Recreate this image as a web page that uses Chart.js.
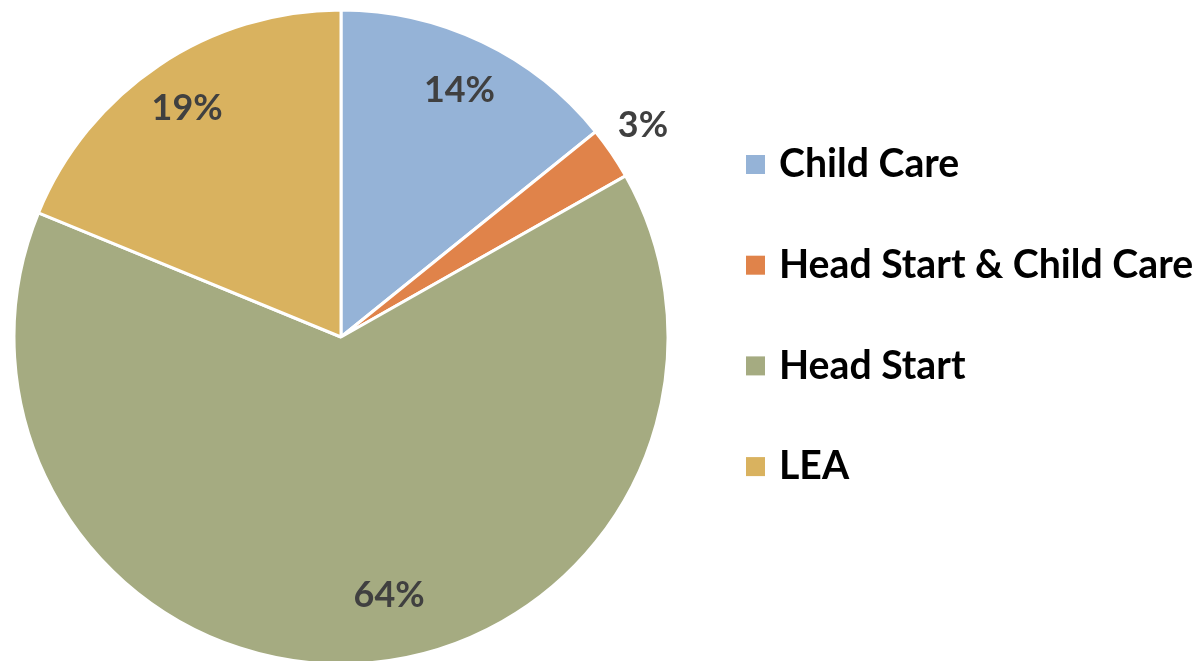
<!DOCTYPE html>
<html>
<head>
<meta charset="utf-8">
<script src="https://cdn.jsdelivr.net/npm/chart.js@4.4.1/dist/chart.umd.min.js"></script>
<style>
html,body{margin:0;padding:0;background:#fff;}
#wrap{width:1200px;height:661px;position:relative;}
</style>
</head>
<body>
<div id="wrap"><canvas id="c" width="1200" height="661"></canvas></div>
<script>
const categories = ["Child Care", "Head Start & Child Care", "Head Start", "LEA"];
const shares = [14.2, 2.6, 64.4, 18.8];
const percentLabels = ["14%", "3%", "64%", "19%"];
const colors = ["#95B3D7", "#E0834A", "#A5AB81", "#D9B25F"];

const FONT = "Lato";

const labelPlugin = {
  id: "sliceLabels",
  afterDatasetsDraw(chart, args, opts) {
    const ctx = chart.ctx;
    const meta = chart.getDatasetMeta(0);
    ctx.save();
    ctx.fillStyle = "#404040";
    ctx.textAlign = "center";
    ctx.textBaseline = "middle";
    let size = 40;
    ctx.font = "bold " + size + "px " + FONT;
    const w = ctx.measureText("14%").width;
    size = size * 71 / w;
    ctx.font = "bold " + size.toFixed(1) + "px " + FONT;
    meta.data.forEach((arc, i) => {
      const p = arc.getProps(["x","y","startAngle","endAngle","outerRadius"], true);
      const mid = (p.startAngle + p.endAngle) / 2 + (opts.angleShift[i] || 0) * Math.PI / 180;
      const r = p.outerRadius * opts.radial[i];
      ctx.fillText(percentLabels[i], p.x + Math.cos(mid) * r, p.y + Math.sin(mid) * r + 1);
    });
    ctx.restore();
  }
};

const legendPlugin = {
  id: "sideLegend",
  afterDraw(chart) {
    const ctx = chart.ctx;
    ctx.save();
    let size = 36;
    ctx.font = "bold " + size + "px " + FONT;
    const w = ctx.measureText("Head Start & Child Care").width;
    size = size * 414 / w;
    ctx.font = "bold " + size.toFixed(1) + "px " + FONT;
    ctx.textBaseline = "middle";
    ctx.textAlign = "left";
    const x0 = 746, box = 19, tx = 779, y0 = 164.5, gap = 100.7;
    categories.forEach((name, i) => {
      const cy = y0 + i * gap;
      ctx.fillStyle = colors[i];
      ctx.fillRect(x0, cy - box / 2, box, box);
      ctx.fillStyle = "#000000";
      ctx.fillText(name, tx, cy);
    });
    ctx.restore();
  }
};

new Chart(document.getElementById("c"), {
  type: "pie",
  data: {
    labels: categories,
    datasets: [{
      data: shares,
      backgroundColor: colors,
      borderColor: "#ffffff",
      borderWidth: 3
    }]
  },
  options: {
    responsive: false,
    animation: false,
    radius: 327,
    layout: { padding: { left: 14, right: 532, top: 13, bottom: 0 } },
    plugins: {
      legend: { display: false },
      tooltip: { enabled: false },
      sliceLabels: { radial: [0.84, 1.13, 0.80, 0.845], angleShift: [0, -1, -7, 0] }
    }
  },
  plugins: [labelPlugin, legendPlugin]
});
</script>
</body>
</html>
